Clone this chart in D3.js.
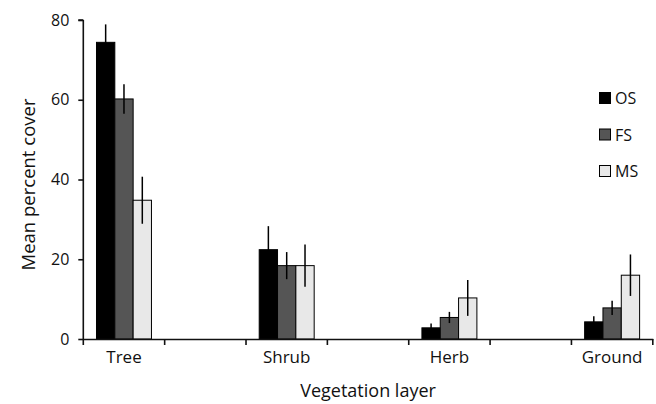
<!DOCTYPE html>
<html>
<head>
<meta charset="utf-8">
<script src="https://cdn.jsdelivr.net/npm/d3@7"></script>
<style>
  html, body { margin: 0; padding: 0; background: #fff; }
  svg { display: block; }
  text { font-family: "Open Sans", "Noto Sans", sans-serif; fill: #111; }
</style>
</head>
<body>
<svg id="chart" width="656" height="404"></svg>
<script>
// ---- data ----
const categories = ["Tree", "", "Shrub", " ", "Herb", "  ", "Ground"];
const seriesNames = ["OS", "FS", "MS"];
const layers = ["Tree", "Shrub", "Herb", "Ground"];
const osValues = [74.4, 22.4, 2.8, 4.3];
const fsValues = [60.2, 18.4, 5.4, 7.8];
const msValues = [34.8, 18.4, 10.3, 16.0];
const osErrors = [4.5, 5.9, 1.1, 1.4];
const fsErrors = [3.7, 3.4, 1.4, 1.8];
const msErrors = [5.9, 5.3, 4.5, 5.2];
const yTicks = [0, 20, 40, 60, 80];
const seriesColors = ["#000000", "#555555", "#e8e8e8"];

// ---- layout ----
const svg = d3.select("#chart");
const plot = { left: 83.3, right: 652.8, top: 20, bottom: 339 };

const x = d3.scaleBand().domain(categories).range([plot.left, plot.right]).paddingInner(0).paddingOuter(0);
const xInner = d3.scaleBand().domain(seriesNames).range([0, x.bandwidth()]).paddingInner(0).paddingOuter(0.72);
const y = d3.scaleLinear().domain([0, 80]).range([plot.bottom, plot.top]);

const valuesBySeries = { OS: osValues, FS: fsValues, MS: msValues };
const errorsBySeries = { OS: osErrors, FS: fsErrors, MS: msErrors };
const color = d3.scaleOrdinal().domain(seriesNames).range(seriesColors);

const rows = [];
layers.forEach((layer, i) => {
  seriesNames.forEach(s => {
    rows.push({ layer, series: s, value: valuesBySeries[s][i], err: errorsBySeries[s][i] });
  });
});

// bars
const g = svg.append("g");
g.selectAll("rect.bar").data(rows).enter().append("rect")
  .attr("class", "bar")
  .attr("x", d => x(d.layer) + xInner(d.series))
  .attr("width", xInner.bandwidth())
  .attr("y", d => y(d.value))
  .attr("height", d => y(0) - y(d.value))
  .attr("fill", d => color(d.series))
  .attr("stroke", "#000")
  .attr("stroke-width", 1);

// error bars
g.selectAll("line.err").data(rows).enter().append("line")
  .attr("class", "err")
  .attr("x1", d => x(d.layer) + xInner(d.series) + xInner.bandwidth() / 2)
  .attr("x2", d => x(d.layer) + xInner(d.series) + xInner.bandwidth() / 2)
  .attr("y1", d => y(d.value + d.err))
  .attr("y2", d => y(d.value - d.err))
  .attr("stroke", "#000")
  .attr("stroke-width", 1.5);

// y axis
const yAxis = d3.axisLeft(y).tickValues(yTicks).tickSize(5).tickPadding(9);
const yG = svg.append("g").attr("transform", `translate(${plot.left},0)`).call(yAxis);
yG.select(".domain").attr("d", `M0,${plot.top}H-5M0,${plot.top}V${plot.bottom + 6}`).attr("stroke", "#111").attr("stroke-width", 1.6);
yG.selectAll(".tick line").attr("stroke", "#111").attr("stroke-width", 1.6);
yG.selectAll(".tick text").style("font-family", '"Open Sans", sans-serif').style("font-size", "16px").attr("fill", "#111");

// x axis (labels at band centers, ticks at band boundaries)
const xAxis = d3.axisBottom(x).tickSize(0).tickPadding(12);
const xG = svg.append("g").attr("transform", `translate(0,${plot.bottom})`).call(xAxis);
xG.select(".domain").attr("stroke", "#111").attr("stroke-width", 1.6);
xG.selectAll(".tick text").style("font-family", '"Open Sans", sans-serif').style("font-size", "17px").attr("fill", "#111");
const boundaries = categories.slice(1).map(c => x(c)).concat([plot.right]);
xG.selectAll("line.bound").data(boundaries).enter().append("line")
  .attr("class", "bound")
  .attr("x1", d => d).attr("x2", d => d)
  .attr("y1", 0).attr("y2", 6)
  .attr("stroke", "#111").attr("stroke-width", 1.6);

// axis titles
svg.append("text")
  .attr("x", (plot.left + plot.right) / 2)
  .attr("y", 397)
  .attr("text-anchor", "middle")
  .style("font-size", "18px")
  .text("Vegetation layer");

svg.append("text")
  .attr("transform", `translate(35,${(plot.top + plot.bottom) / 2 + 5}) rotate(-90)`)
  .attr("text-anchor", "middle")
  .style("font-size", "18.5px")
  .text("Mean percent cover");

// legend
const legendY = d3.scalePoint().domain(seriesNames).range([98, 171]);
const lg = svg.append("g");
lg.selectAll("rect").data(seriesNames).enter().append("rect")
  .attr("x", 599.5)
  .attr("y", d => legendY(d) - 5.5)
  .attr("width", 11)
  .attr("height", 11)
  .attr("fill", d => color(d))
  .attr("stroke", "#000")
  .attr("stroke-width", 1);
lg.selectAll("text").data(seriesNames).enter().append("text")
  .attr("x", 615)
  .attr("y", d => legendY(d) + 6)
  .style("font-size", "16px")
  .text(d => d);
</script>
</body>
</html>
